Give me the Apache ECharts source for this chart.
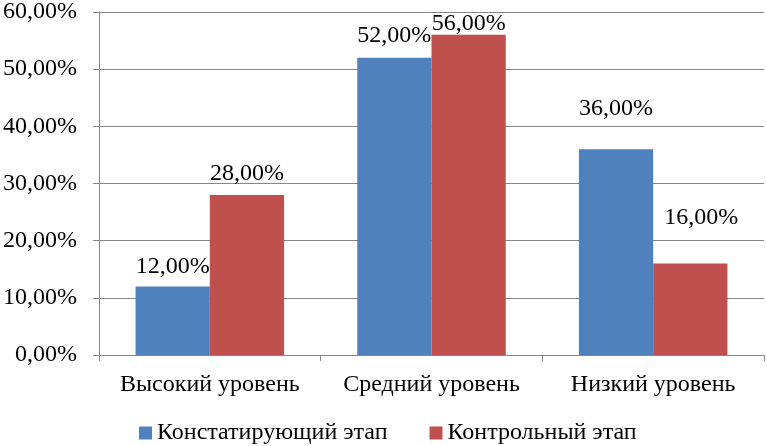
<!DOCTYPE html>
<html>
<head>
<meta charset="utf-8">
<script src="https://cdn.jsdelivr.net/npm/echarts@6/dist/echarts.min.js"></script>
<style>
  html, body { margin: 0; padding: 0; background: #fff; }
  #main { width: 767px; height: 446px; }
</style>
</head>
<body>
<div id="main"></div>
<script>
var categories = ['Высокий уровень', 'Средний уровень', 'Низкий уровень'];
var seriesNames = ['Констатирующий этап', 'Контрольный этап'];
var stage1 = [12, 52, 36];
var stage2 = [28, 56, 16];

// Excel placed some labels by hand, shift them the same way
var shift1 = [[0, 0], [0, -2], [0, -20]];
var shift2 = [[0, -1], [0, 9], [11, -26]];

var font = 'Liberation Serif, Times New Roman, serif';

function pct(v) {
  return v.toFixed(2).replace('.', ',') + '%';
}

function withLabels(vals, shifts) {
  return vals.map(function (v, i) {
    return { value: v, label: { offset: shifts[i] } };
  });
}

var chart = echarts.init(document.getElementById('main'));
var option = {
  animation: false,
  textStyle: { fontFamily: font },
  grid: { left: 98, right: 3, top: 9, bottom: 91 },
  legend: {
    data: seriesNames,
    left: 134,
    top: 416,
    icon: 'rect',
    itemWidth: 13,
    itemHeight: 13,
    itemGap: 42,
    textStyle: { fontFamily: font, fontSize: 24, color: '#000' }
  },
  xAxis: {
    type: 'category',
    data: categories,
    axisLine: { lineStyle: { color: '#868686', width: 1 } },
    axisTick: { show: true, length: 6, lineStyle: { color: '#868686' } },
    axisLabel: { interval: 0, fontFamily: font, fontSize: 24, color: '#000', margin: 18 }
  },
  yAxis: {
    type: 'value',
    min: 0,
    max: 60,
    interval: 10,
    axisLine: { show: true, lineStyle: { color: '#868686', width: 1 } },
    axisTick: { show: true, length: 6, lineStyle: { color: '#868686' } },
    splitLine: { lineStyle: { color: '#868686', width: 1 } },
    axisLabel: {
      fontFamily: font, fontSize: 24, color: '#000', margin: 22,
      formatter: function (v) { return pct(v); }
    }
  },
  series: [{
    name: seriesNames[0],
    type: 'bar',
    data: withLabels(stage1, shift1),
    barGap: '0%',
    barCategoryGap: '33%',
    itemStyle: { color: '#4F81BD' },
    label: {
      show: true, position: 'top', distance: 8,
      fontFamily: font, fontSize: 24, color: '#000',
      formatter: function (p) { return pct(p.value); }
    }
  }, {
    name: seriesNames[1],
    type: 'bar',
    data: withLabels(stage2, shift2),
    itemStyle: { color: '#C0504D' },
    label: {
      show: true, position: 'top', distance: 8,
      fontFamily: font, fontSize: 24, color: '#000',
      formatter: function (p) { return pct(p.value); }
    }
  }]
};
chart.setOption(option);
</script>
</body>
</html>
